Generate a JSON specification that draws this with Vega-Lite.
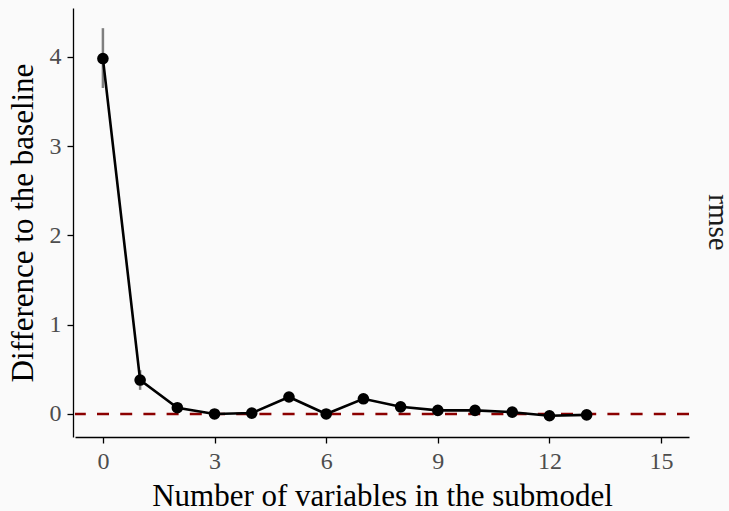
{
  "$schema": "https://vega.github.io/schema/vega-lite/v6.json",
  "background": "#fafafa",
  "padding": {"left": 7, "top": 8, "right": 0, "bottom": 0},
  "data": {"values": [
    {"stat": "rmse", "size": 0, "diff": 3.98, "lower": 3.65, "upper": 4.32},
    {"stat": "rmse", "size": 1, "diff": 0.38, "lower": 0.27, "upper": 0.49},
    {"stat": "rmse", "size": 2, "diff": 0.07, "lower": null, "upper": null},
    {"stat": "rmse", "size": 3, "diff": 0.0, "lower": null, "upper": null},
    {"stat": "rmse", "size": 4, "diff": 0.01, "lower": null, "upper": null},
    {"stat": "rmse", "size": 5, "diff": 0.19, "lower": null, "upper": null},
    {"stat": "rmse", "size": 6, "diff": 0.0, "lower": null, "upper": null},
    {"stat": "rmse", "size": 7, "diff": 0.17, "lower": null, "upper": null},
    {"stat": "rmse", "size": 8, "diff": 0.08, "lower": null, "upper": null},
    {"stat": "rmse", "size": 9, "diff": 0.04, "lower": null, "upper": null},
    {"stat": "rmse", "size": 10, "diff": 0.04, "lower": null, "upper": null},
    {"stat": "rmse", "size": 11, "diff": 0.02, "lower": null, "upper": null},
    {"stat": "rmse", "size": 12, "diff": -0.02, "lower": null, "upper": null},
    {"stat": "rmse", "size": 13, "diff": -0.01, "lower": null, "upper": null}
  ]},
  "facet": {
    "row": {
      "field": "stat", "type": "nominal",
      "header": {
        "title": null, "labelOrient": "right", "labelAngle": 90,
        "labelFont": "Liberation Serif", "labelFontSize": 29, "labelColor": "#1a1a1a",
        "labelPadding": 12
      }
    }
  },
  "spec": {
    "width": 614,
    "height": 429,
    "encoding": {
      "x": {
        "field": "size", "type": "quantitative",
        "scale": {"domain": [-0.75, 15.75], "nice": false, "zero": false},
        "axis": {"values": [0, 3, 6, 9, 12, 15], "format": "d", "title": "Number of variables in the submodel"}
      }
    },
    "layer": [
      {
        "transform": [{"filter": "datum.size == 0"}],
        "mark": {"type": "rule", "color": "#8b0000", "strokeWidth": 2.6, "strokeDash": [12, 11.2]},
        "encoding": {"x": null, "y": {"datum": 0}}
      },
      {
        "transform": [{"filter": "datum.lower != null"}],
        "mark": {"type": "rule", "color": "#7f7f7f", "strokeWidth": 2.5},
        "encoding": {
          "y": {"field": "lower", "type": "quantitative"},
          "y2": {"field": "upper"}
        }
      },
      {
        "mark": {"type": "line", "color": "black", "strokeWidth": 2.6},
        "encoding": {
          "y": {
            "field": "diff", "type": "quantitative",
            "scale": {"domain": [-0.258, 4.546], "nice": false, "zero": false},
            "axis": {"values": [0, 1, 2, 3, 4], "format": "d", "title": "Difference to the baseline"}
          }
        }
      },
      {
        "mark": {"type": "circle", "color": "black", "opacity": 1, "size": 135},
        "encoding": {
          "y": {"field": "diff", "type": "quantitative"}
        }
      }
    ]
  },
  "config": {
    "view": {"stroke": null},
    "axis": {
      "grid": false,
      "domainColor": "black", "domainWidth": 1.3,
      "tickColor": "black", "tickWidth": 1.3, "tickSize": 6,
      "labelFont": "Liberation Serif", "labelFontSize": 24, "labelColor": "#4d4d4d", "labelPadding": 6,
      "titleFont": "Liberation Serif", "titleFontSize": 31, "titleFontWeight": "normal", "titleColor": "black"
    },
    "axisX": {"titlePadding": 8},
    "axisY": {"titlePadding": 10}
  }
}
